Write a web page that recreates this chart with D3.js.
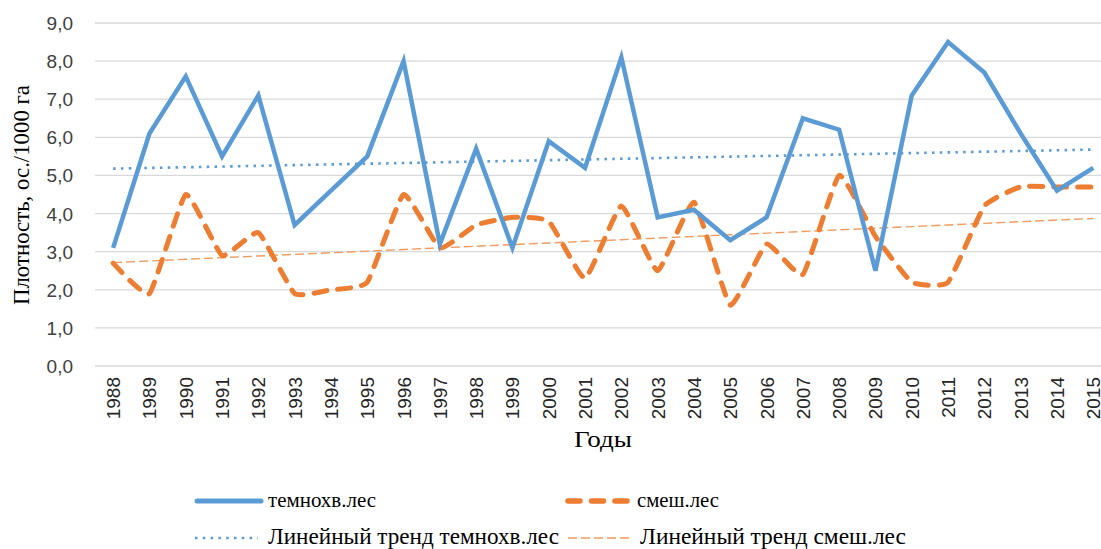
<!DOCTYPE html>
<meta charset="utf-8">
<html>
<head>
<script src="https://d3js.org/d3.v7.min.js"></script>
<style>
    body { margin: 0; background: #fff; }
    svg { display: block; }
    .tick-y { font-family: "Liberation Sans", Arial, sans-serif; font-size: 19px; fill: #404040; }
    .tick-x { font-family: "Liberation Sans", Arial, sans-serif; font-size: 19px; fill: #262626; }
    .serif { font-family: "Liberation Serif", "Times New Roman", serif; fill: #000; }
</style>
</head>
<body>
<svg id="chart"></svg>
<script>
    // ---------- data ----------
    const years = [1988, 1989, 1990, 1991, 1992, 1993, 1994, 1995, 1996, 1997,
                   1998, 1999, 2000, 2001, 2002, 2003, 2004, 2005, 2006, 2007,
                   2008, 2009, 2010, 2011, 2012, 2013, 2014, 2015];

    // темнохв.лес
    const darkConif = [3.1, 6.1, 7.6, 5.5, 7.1, 3.7, 4.6, 5.5, 8.0, 3.2,
                       5.7, 3.1, 5.9, 5.2, 8.1, 3.9, 4.1, 3.3, 3.9, 6.5,
                       6.2, 2.5, 7.1, 8.5, 7.7, 6.1, 4.6, 5.2];

    // смеш.лес
    const mixed = [2.7, 1.9, 4.5, 2.9, 3.5, 1.9, 2.0, 2.2, 4.5, 3.1,
                   3.7, 3.9, 3.8, 2.3, 4.2, 2.5, 4.3, 1.6, 3.2, 2.4,
                   5.0, 3.4, 2.2, 2.2, 4.2, 4.7, 4.7, 4.7];

    const yTicks = [0, 1, 2, 3, 4, 5, 6, 7, 8, 9];

    const legendItems = [
        { label: "темнохв.лес", type: "solid" },
        { label: "смеш.лес", type: "dash" },
        { label: "Линейный тренд темнохв.лес", type: "dot" },
        { label: "Линейный тренд смеш.лес", type: "thindash" }
    ];

    const blue = "#5B9BD5", orange = "#ED7D31";

    // ---------- layout ----------
    const width = 1101, height = 549;
    const svg = d3.select("#chart").attr("width", width).attr("height", height);

    const x = d3.scaleBand().domain(years).range([95, 95 + 28 * 36.3]);
    const y = d3.scaleLinear().domain([0, 9]).range([366, 23]);
    const cx = d => x(d) + x.bandwidth() / 2;

    // gridlines
    svg.append("g")
        .selectAll("line")
        .data(yTicks)
        .enter()
        .append("line")
            .attr("x1", 95).attr("x2", width)
            .attr("y1", d => y(d)).attr("y2", d => y(d))
            .attr("stroke", "#d9d9d9")
            .attr("stroke-width", 1.3);

    // y tick labels
    svg.append("g")
        .selectAll("text")
        .data(yTicks)
        .enter()
        .append("text")
            .attr("class", "tick-y")
            .attr("x", 73)
            .attr("y", d => y(d) + 7)
            .attr("text-anchor", "end")
            .text(d => d3.format(".1f")(d).replace(".", ","));

    // x tick labels (rotated)
    svg.append("g")
        .selectAll("text")
        .data(years)
        .enter()
        .append("text")
            .attr("class", "tick-x")
            .attr("transform", d => `translate(${cx(d) + 7},377) rotate(-90)`)
            .attr("text-anchor", "end")
            .text(d => d);

    // axis titles
    svg.append("text")
        .attr("class", "serif")
        .attr("x", 574).attr("y", 447)
        .style("font-size", "24px")
        .attr("textLength", 58)
        .attr("lengthAdjust", "spacingAndGlyphs")
        .text("Годы");

    svg.append("text")
        .attr("class", "serif")
        .attr("transform", "translate(29,305) rotate(-90)")
        .style("font-size", "22.5px")
        .attr("textLength", 220)
        .attr("lengthAdjust", "spacingAndGlyphs")
        .text("Плотность, ос./1000 га");

    // linear trend (least squares on year index)
    function trend(vals) {
        const n = vals.length;
        const mx = (n - 1) / 2, my = d3.mean(vals);
        let sxy = 0, sxx = 0;
        vals.forEach((v, i) => { sxy += (i - mx) * (v - my); sxx += (i - mx) * (i - mx); });
        const b = sxy / sxx, a = my - b * mx;
        return years.map((yr, i) => ({ yr, v: a + b * i }));
    }

    const trendLine = d3.line().x(d => cx(d.yr)).y(d => y(d.v));

    svg.append("path")
        .datum(trend(darkConif))
        .attr("d", trendLine)
        .attr("fill", "none")
        .attr("stroke", blue)
        .attr("stroke-width", 2.6)
        .attr("stroke-dasharray", "2.5,5.3");

    svg.append("path")
        .datum(trend(mixed))
        .attr("d", trendLine)
        .attr("fill", "none")
        .attr("stroke", "#F19A5E")
        .attr("stroke-width", 1.4)
        .attr("stroke-dasharray", "9,4");

    // series lines
    const straight = d3.line().x((d, i) => cx(years[i])).y(d => y(d));
    const smooth = d3.line().x((d, i) => cx(years[i])).y(d => y(d)).curve(d3.curveCardinal.tension(0.6));

    svg.append("path")
        .datum(mixed)
        .attr("d", smooth)
        .attr("fill", "none")
        .attr("stroke", orange)
        .attr("stroke-width", 5)
        .attr("stroke-linecap", "round")
        .attr("stroke-dasharray", "13,11");

    svg.append("path")
        .datum(darkConif)
        .attr("d", straight)
        .attr("fill", "none")
        .attr("stroke", blue)
        .attr("stroke-width", 4.5)
        .attr("stroke-linejoin", "miter");

    // legend
    const legPos = [[195, 501], [565, 501], [195, 538], [568, 538]];
    const legWidths = [108, 82, 291, 266];
    const legSizes = [21.5, 21.5, 23, 23];
    const leg = svg.append("g");
    legendItems.forEach((it, i) => {
        const [lx, ly] = legPos[i];
        const sample = leg.append("line")
            .attr("x1", lx).attr("x2", lx + 64)
            .attr("y1", ly).attr("y2", ly)
            .attr("fill", "none");
        if (it.type === "solid") {
            sample.attr("x1", lx + 2).attr("x2", lx + 66).attr("stroke", blue).attr("stroke-width", 5).attr("stroke-linecap", "round");
        } else if (it.type === "dash") {
            sample.attr("x1", lx + 3).attr("x2", lx + 66).attr("stroke", orange).attr("stroke-width", 5.5)
                .attr("stroke-linecap", "round").attr("stroke-dasharray", "12,11.5");
        } else if (it.type === "dot") {
            sample.attr("x2", lx + 63).attr("stroke", blue).attr("stroke-width", 2.6).attr("stroke-dasharray", "2.5,5.3");
        } else {
            sample.attr("x2", lx + 62).attr("stroke", "#F19A5E").attr("stroke-width", 1.4).attr("stroke-dasharray", "9,4");
        }
        leg.append("text")
            .attr("class", "serif")
            .attr("x", i % 2 === 0 ? 268 : lx + 72)
            .attr("y", ly + 6)
            .style("font-size", legSizes[i] + "px")
            .attr("textLength", legWidths[i])
            .attr("lengthAdjust", "spacingAndGlyphs")
            .text(it.label);
    });
</script>
</body>
</html>
